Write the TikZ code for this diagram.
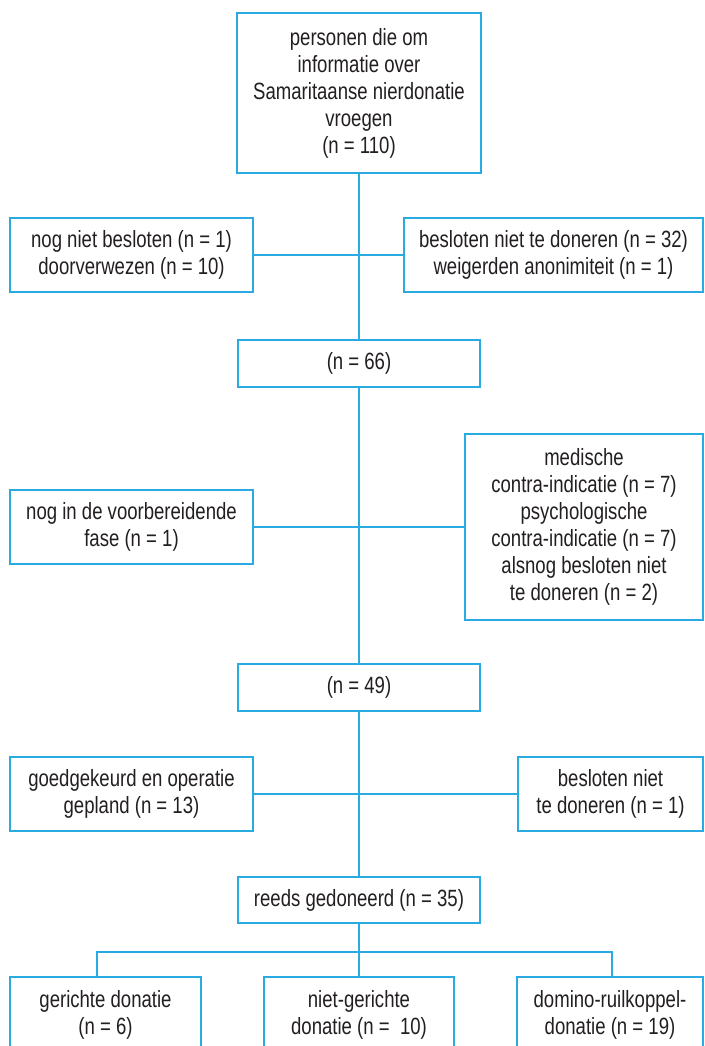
\documentclass[tikz,border=0pt]{standalone}
\usepackage{fontspec}
\setmainfont[FakeStretch=0.79]{Liberation Sans}
\definecolor{lineblue}{RGB}{41,171,226}
\definecolor{txtgray}{RGB}{35,31,32}
\begin{document}
\begin{tikzpicture}[x=1pt,y=-1pt,
  box/.style={draw=lineblue, line width=1.8pt, inner sep=0pt, align=center, text=txtgray, font=\fontsize{23.5}{27}\selectfont},
  conn/.style={draw=lineblue, line width=1.8pt}]
\useasboundingbox (0,0) rectangle (704,1046);
\clip (0,0) rectangle (704,1046);
\fill[white] (0,0) rectangle (704,1046);

\node[box, minimum width=244pt, minimum height=160pt] (top) at (359,93) {personen die om\\informatie over\\Samaritaanse nierdonatie\\vroegen\\(n = 110)};

\node[box, minimum width=243pt, minimum height=74pt] (l1) at (131.5,255) {nog niet besloten (n = 1)\\doorverwezen (n = 10)};
\node[box, minimum width=299pt, minimum height=74pt] (r1) at (553.5,255) {besloten niet te doneren (n = 32)\\weigerden anonimiteit (n = 1)};

\node[box, minimum width=242pt, minimum height=47pt] (n66) at (359,363.5) {(n = 66)};

\node[box, minimum width=243pt, minimum height=74pt] (l2) at (131.5,527) {nog in de voorbereidende\\fase (n = 1)};
\node[box, minimum width=238pt, minimum height=186pt] (r2) at (584,527) {medische\\contra-indicatie (n = 7)\\psychologische\\contra-indicatie (n = 7)\\alsnog besloten niet\\te doneren (n = 2)};

\node[box, minimum width=242pt, minimum height=47pt] (n49) at (359,687.5) {(n = 49)};

\node[box, minimum width=243pt, minimum height=74pt] (l3) at (131.5,794) {goedgekeurd en operatie\\gepland (n = 13)};
\node[box, minimum width=185pt, minimum height=74pt] (r3) at (610.5,794) {besloten niet\\te doneren (n = 1)};

\node[box, minimum width=242pt, minimum height=46pt] (reeds) at (359,900) {reeds gedoneerd (n = 35)};

\node[box, minimum width=191pt, minimum height=76pt] (b1) at (105.5,1015) {gerichte donatie\\(n = 6)};
\node[box, minimum width=190pt, minimum height=76pt] (b2) at (359,1015) {niet-gerichte\\donatie (n =\ \ 10)};
\node[box, minimum width=186pt, minimum height=76pt] (b3) at (610,1015) {domino-ruilkoppel-\\donatie (n = 19)};

\draw[conn] (top.south) -- (n66.north);
\draw[conn] (n66.south) -- (n49.north);
\draw[conn] (n49.south) -- (reeds.north);
\draw[conn] (reeds.south) -- (b2.north);
\draw[conn] (l1.east) -- (r1.west);
\draw[conn] (l2.east) -- (r2.west);
\draw[conn] (l3.east) -- (r3.west);

\coordinate (j1) at (97,952);
\coordinate (j3) at (612,952);
\draw[conn] (j1 |- b1.north) -- (j1) -- (j3) -- (j3 |- b3.north);
\end{tikzpicture}
\end{document}
